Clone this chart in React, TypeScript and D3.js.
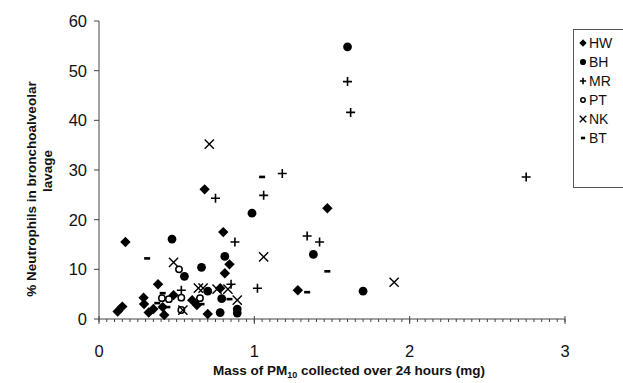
import React from "react";
import * as d3 from "d3";

type Pt = [number, number];

const HW: Pt[] = [
  [0.12, 1.5], [0.15, 2.5], [0.17, 15.5], [0.287, 4.3], [0.29, 3.0], [0.32, 1.3], [0.35, 2.0],
  [0.38, 7.0], [0.41, 2.4], [0.42, 0.8], [0.48, 4.8], [0.6, 3.8], [0.63, 2.8], [0.7, 1.0],
  [0.68, 26.1], [0.78, 6.2], [0.8, 17.5], [0.81, 9.2], [0.84, 11.0], [1.28, 5.8], [1.47, 22.3],
];
const BH: Pt[] = [
  [0.47, 16.1], [0.55, 8.6], [0.66, 10.4], [0.7, 5.6], [0.78, 1.3], [0.79, 4.1], [0.81, 12.6],
  [0.89, 1.2], [0.89, 2.0], [0.985, 21.3], [1.38, 13.0], [1.6, 54.8], [1.7, 5.6],
];
const MR: Pt[] = [
  [0.53, 5.8], [0.75, 24.3], [0.85, 7.0], [0.875, 15.5], [1.02, 6.2], [1.06, 24.9], [1.18, 29.3],
  [1.34, 16.7], [1.42, 15.5], [1.6, 47.8], [1.62, 41.6], [2.75, 28.6],
];
const PT: Pt[] = [
  [0.405, 4.2], [0.45, 4.0], [0.515, 10.0], [0.53, 4.3], [0.53, 1.8], [0.65, 4.2],
];
const NK: Pt[] = [
  [0.48, 11.4], [0.54, 1.8], [0.64, 6.2], [0.67, 6.2], [0.71, 35.2], [0.76, 6.0], [0.83, 6.0],
  [0.89, 3.8], [1.06, 12.5], [1.9, 7.4],
];
const BT: Pt[] = [
  [0.31, 12.2], [0.375, 3.2], [0.41, 5.2], [0.44, 2.4], [0.66, 3.0], [0.84, 4.0], [1.05, 28.6],
  [1.34, 5.4], [1.47, 9.6],
];

const seriesNames = ["HW", "BH", "MR", "PT", "NK", "BT"];
const xTicks = [0, 1, 2, 3];
const yTicks = [0, 10, 20, 30, 40, 50, 60];

const FONT = "Liberation Sans, Arial, sans-serif";

function Marker({ kind, x, y, s = 1 }: { kind: string; x: number; y: number; s?: number }) {
  const c = "#000";
  switch (kind) {
    case "HW": {
      const r = 5.2 * s;
      return <path d={`M${x},${y - r}L${x + r},${y}L${x},${y + r}L${x - r},${y}Z`} fill={c} />;
    }
    case "BH":
      return <circle cx={x} cy={y} r={4.4 * s} fill={c} />;
    case "MR": {
      const r = 4.5 * s;
      return <path d={`M${x - r},${y}H${x + r}M${x},${y - r}V${y + r}`} stroke={c} strokeWidth={1.6} />;
    }
    case "PT":
      return <circle cx={x} cy={y} r={3.2 * s} fill="#fff" stroke={c} strokeWidth={1.5} />;
    case "NK": {
      const r = 4.6 * s;
      return (
        <path
          d={`M${x - r},${y - r}L${x + r},${y + r}M${x - r},${y + r}L${x + r},${y - r}`}
          stroke={c}
          strokeWidth={1.4}
        />
      );
    }
    case "BT":
      return <rect x={x - 3 * s} y={y - 1.3} width={6 * s} height={2.6} fill={c} />;
  }
  return null;
}

export default function App() {
  const W = 623;
  const H = 383;
  const x = d3.scaleLinear().domain([0, 3]).range([99, 565]);
  const y = d3.scaleLinear().domain([0, 60]).range([319, 21]);
  const data: Record<string, Pt[]> = { HW, BH, MR, PT, NK, BT };
  const minor = d3.range(0, 3.0001, 0.05);
  const axisColor = "#444";

  return (
    <svg
      width={W}
      height={H}
      style={{ position: "absolute", left: 0, top: 0, background: "#fff" }}
      fontFamily={FONT}
    >
      {/* axes */}
      <line x1={x(0)} x2={x(3)} y1={y(0)} y2={y(0)} stroke={axisColor} strokeWidth={1} />
      <line x1={x(0)} x2={x(0)} y1={y(0)} y2={y(60)} stroke={axisColor} strokeWidth={1} />
      {minor.map((v, i) => (
        <line key={"m" + i} x1={x(v)} x2={x(v)} y1={y(0)} y2={y(0) + 3} stroke={axisColor} strokeWidth={1} />
      ))}
      {xTicks.map((v) => (
        <g key={"x" + v}>
          <line x1={x(v)} x2={x(v)} y1={y(0) - 3} y2={y(0) + 5} stroke={axisColor} strokeWidth={1} />
          <text x={x(v)} y={357} textAnchor="middle" fontSize={16.5} fill="#111">
            {v}
          </text>
        </g>
      ))}
      {yTicks.map((v) => (
        <g key={"y" + v}>
          <line x1={x(0) - 5} x2={x(0)} y1={y(v)} y2={y(v)} stroke={axisColor} strokeWidth={1} />
          <text x={x(0) - 12} y={y(v) + 6} textAnchor="end" fontSize={16.5} fill="#111">
            {v}
          </text>
        </g>
      ))}

      {/* points */}
      {seriesNames.map((k) =>
        data[k].map((p, i) => <Marker key={k + i} kind={k} x={x(p[0])} y={y(p[1])} />)
      )}

      {/* axis titles */}
      <text x={349} y={375} textAnchor="middle" fontSize={13.5} fontWeight="bold" fill="#111">
        Mass of PM<tspan fontSize={9} dy={3}>10</tspan>
        <tspan dy={-3}> collected over 24 hours (mg)</tspan>
      </text>
      <text
        transform="translate(36,189) rotate(-90)"
        textAnchor="middle"
        fontSize={13.5}
        fontWeight="bold"
        fill="#111"
      >
        % Neutrophils in bronchoalveolar
      </text>
      <text
        transform="translate(52,171) rotate(-90)"
        textAnchor="middle"
        fontSize={13.5}
        fontWeight="bold"
        fill="#111"
      >
        lavage
      </text>

      {/* legend */}
      <rect x={573.5} y={29.5} width={60} height={158} fill="#fff" stroke="#555" strokeWidth={1} />
      {seriesNames.map((k, i) => {
        const yy = 43 + i * 19;
        return (
          <g key={"lg" + k}>
            <Marker kind={k} x={583} y={yy} s={0.7} />
            <text x={589} y={yy + 5} fontSize={14} fill="#111">
              {k}
            </text>
          </g>
        );
      })}
    </svg>
  );
}
